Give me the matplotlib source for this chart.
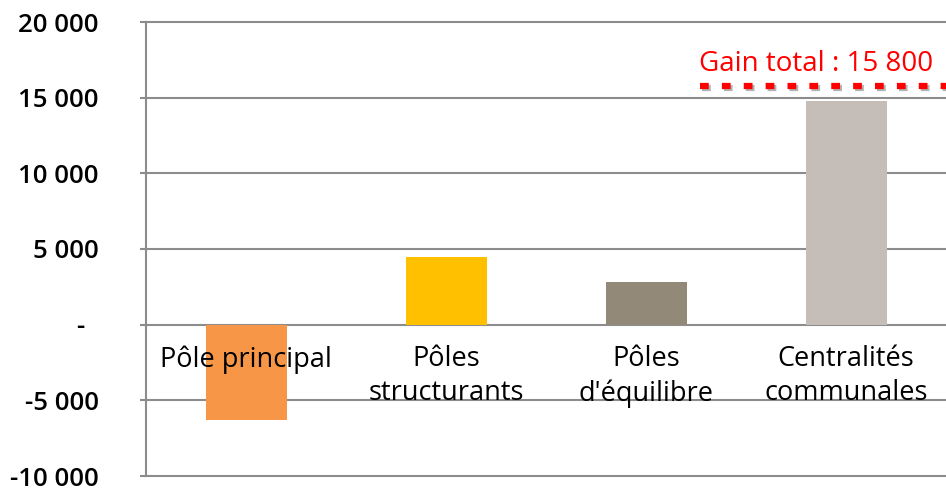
import numpy as np
import matplotlib.pyplot as plt
import matplotlib.patheffects as pe

categories = ["Pôle principal", "Pôles\nstructurants", "Pôles\nd'équilibre", "Centralités\ncommunales"]
values = [-6300, 4500, 2800, 14800]
colors = ["#F79646", "#FFC000", "#938979", "#C5BDB7"]
yticks = [-10000, -5000, 0, 5000, 10000, 15000, 20000]
ytick_labels = ["-10 000", "-5 000", "-  ", "5 000", "10 000", "15 000", "20 000"]
total = 15800
total_label = "Gain total : 15 800"

plt.rcParams['font.family'] = ['Open Sans', 'DejaVu Sans']

fig = plt.figure(figsize=(9.46, 4.90), dpi=100)
ax = fig.add_axes([146 / 946, 14 / 490, 800 / 946, 454 / 490])

x = np.arange(len(categories))
ax.bar(x, values, width=0.405, color=colors, zorder=2)

# horizontal gridlines, drawn by hand so the edge ones are not clipped
for t in yticks:
    ax.axhline(t, color="#8C8C8C", lw=1.5, zorder=1, clip_on=False)

ax.set_xlim(-0.5, 3.5)
ax.set_ylim(-10000, 20000)
ax.set_xticks([])
ax.set_yticks(yticks)
ax.set_yticklabels(ytick_labels, fontsize=18.5, fontweight='semibold')
ax.tick_params(axis='y', length=4, width=1.5, color="#8C8C8C", pad=30)
for s in ["top", "right", "bottom"]:
    ax.spines[s].set_visible(False)
ax.spines["left"].set_color("#8C8C8C")
ax.spines["left"].set_linewidth(1.5)

# category labels sit just under the zero line
for xi, lab in zip(x, categories):
    ax.text(xi, -1350, lab, ha='center', va='top', fontsize=19.5,
            linespacing=1.28, zorder=3)

# total gain marker
ax.plot([2.27, 3.5], [total, total], color="#FF0000", lw=4.5,
        linestyle=(0, (1.4, 2.1)), solid_capstyle='butt', dash_capstyle='butt',
        zorder=4, clip_on=False,
        path_effects=[pe.SimpleLineShadow(offset=(1.5, -2), shadow_color='gray', alpha=0.6),
                      pe.Normal()])
ax.text(2.85, 17200, total_label, color="#FF0000", ha='center', va='center',
        fontsize=20, zorder=4)

fig.savefig("out.png", dpi=100)
